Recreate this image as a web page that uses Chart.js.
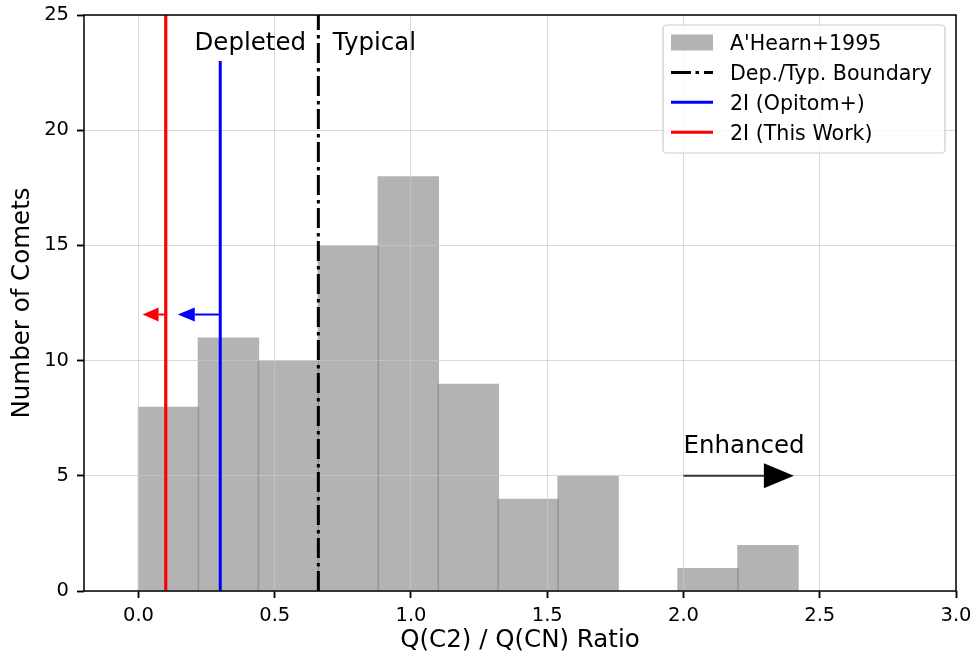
<!DOCTYPE html>
<html><head><meta charset="utf-8">
<script src="https://cdn.jsdelivr.net/npm/chart.js@4/dist/chart.umd.min.js"></script>
<style>html,body{margin:0;padding:0;background:#fff}</style>
</head><body>
<canvas id="c" width="974" height="661" style="display:block;width:974px;height:661px"></canvas>
<script>
// ---- data ----
const binEdges = [0.00, 0.22, 0.44, 0.66, 0.88, 1.10, 1.32, 1.54, 1.76, 1.98, 2.20, 2.42];
const binCounts = [8, 11, 10, 15, 18, 9, 4, 5, 0, 1, 2];
const xTicks = [0, 0.5, 1.0, 1.5, 2.0, 2.5, 3.0];
const yTicks = [0, 5, 10, 15, 20, 25];
const boundaryX = 0.66;
const opitomX = 0.3, opitomTop = 23;
const thisWorkX = 0.1, thisWorkTop = 25;
const arrowTailX = [0.1, 0.3, 2.0];
const arrowTipX = [0.015, 0.144, 2.405];
const arrowY = [12, 12, 5];
const noteTexts = ['Depleted', 'Typical', 'Enhanced'];
const noteX = [0.615, 0.713, 2.0];
const noteY = [23.5, 23.5, 6];
const legendLabels = ["A'Hearn+1995", "Dep./Typ. Boundary", "2I (Opitom+)", "2I (This Work)"];

// ---- styles ----
const FONT = "'DejaVu Sans', sans-serif";
const BAR_FILL = 'rgba(128,128,128,0.6)';
const GRID = 'rgba(210,210,210,0.6)';
const arrowStyle = [
  {shaft: '#ff0000', head: '#ff0000', lw: 2, len: 16, half: 7},
  {shaft: '#0000ff', head: '#0000ff', lw: 2, len: 17, half: 7},
  {shaft: '#333333', head: '#000000', lw: 2, len: 30, half: 12.5}
];
const noteAlign = ['right', 'left', 'left'];

const histData = binCounts.map((c, i) => ({x: (binEdges[i] + binEdges[i + 1]) / 2, y: c}));

const gridOverBars = {
  id: 'gridOverBars',
  afterDatasetDraw(chart, args) {
    if (args.index !== 0) return;
    chart.scales.x.drawGrid(chart.chartArea);
    chart.scales.y.drawGrid(chart.chartArea);
  }
};

const notes = {
  id: 'notes',
  afterDatasetsDraw(chart) {
    const {ctx, scales: {x, y}} = chart;
    ctx.save();
    for (let i = 0; i < arrowTailX.length; i++) {
      const s = arrowStyle[i];
      const tail = x.getPixelForValue(arrowTailX[i]);
      const tip = x.getPixelForValue(arrowTipX[i]);
      const yy = y.getPixelForValue(arrowY[i]);
      const dir = Math.sign(tip - tail);
      const base = tip - dir * s.len;
      ctx.strokeStyle = s.shaft; ctx.lineWidth = s.lw; ctx.lineCap = 'butt';
      ctx.beginPath(); ctx.moveTo(tail, yy); ctx.lineTo(base, yy); ctx.stroke();
      ctx.fillStyle = s.head;
      ctx.beginPath(); ctx.moveTo(tip, yy); ctx.lineTo(base, yy - s.half); ctx.lineTo(base, yy + s.half); ctx.closePath(); ctx.fill();
    }
    ctx.fillStyle = '#000';
    ctx.font = '24.5px ' + FONT;
    ctx.textBaseline = 'alphabetic';
    for (let i = 0; i < noteTexts.length; i++) {
      ctx.textAlign = noteAlign[i];
      ctx.fillText(noteTexts[i], x.getPixelForValue(noteX[i]), y.getPixelForValue(noteY[i]));
    }
    ctx.restore();
  },
  afterDraw(chart) {
    const {ctx, chartArea: ca} = chart;
    ctx.save();
    // spines
    ctx.strokeStyle = '#000'; ctx.lineWidth = 1.5;
    ctx.strokeRect(ca.left, ca.top, ca.right - ca.left, ca.bottom - ca.top);
    // legend
    const bw = 282, bh = 128;
    const bx = ca.right - 11 - bw, by = ca.top + 10;
    ctx.beginPath();
    ctx.roundRect(bx, by, bw, bh, 4);
    ctx.fillStyle = 'rgba(255,255,255,0.85)'; ctx.fill();
    ctx.strokeStyle = '#cccccc'; ctx.lineWidth = 1.2; ctx.stroke();
    const hx0 = bx + 8, hx1 = bx + 50, tx = bx + 67;
    ctx.font = '20.6px ' + FONT;
    ctx.textAlign = 'left'; ctx.textBaseline = 'alphabetic';
    for (let i = 0; i < legendLabels.length; i++) {
      const cy = by + 17.5 + i * 29.9;
      if (i === 0) {
        ctx.fillStyle = BAR_FILL;
        ctx.fillRect(hx0, cy - 8, hx1 - hx0, 16);
      } else {
        const ds = chart.data.datasets[i];
        ctx.strokeStyle = ds.borderColor; ctx.lineWidth = 3; ctx.lineCap = 'butt';
        ctx.setLineDash(ds.borderDash || []);
        ctx.beginPath(); ctx.moveTo(hx0, cy); ctx.lineTo(hx1, cy); ctx.stroke();
        ctx.setLineDash([]);
      }
      ctx.fillStyle = '#000';
      ctx.fillText(legendLabels[i], tx, cy + 7.5);
    }
    ctx.restore();
  }
};

new Chart(document.getElementById('c'), {
  type: 'bar',
  data: {
    datasets: [
      {type: 'bar', label: legendLabels[0], data: histData, backgroundColor: BAR_FILL, borderWidth: 0,
       barPercentage: 1.025, categoryPercentage: 1, grouped: false, order: 10},
      {type: 'line', label: legendLabels[1], data: [{x: boundaryX, y: 0}, {x: boundaryX, y: 25}],
       borderColor: '#000000', borderWidth: 3, borderDash: [20, 4.5, 3.5, 5], pointRadius: 0, fill: false, order: 3},
      {type: 'line', label: legendLabels[2], data: [{x: opitomX, y: 0}, {x: opitomX, y: opitomTop}],
       borderColor: '#0000ff', borderWidth: 3, pointRadius: 0, fill: false, order: 2},
      {type: 'line', label: legendLabels[3], data: [{x: thisWorkX, y: 0}, {x: thisWorkX, y: thisWorkTop}],
       borderColor: '#ff0000', borderWidth: 3.2, pointRadius: 0, fill: false, order: 1}
    ]
  },
  options: {
    responsive: false,
    animation: false,
    events: [],
    layout: {padding: {left: 0, right: 18, top: 15, bottom: 0}},
    plugins: {legend: {display: false}, tooltip: {enabled: false}},
    scales: {
      x: {
        type: 'linear', min: -0.2, max: 3.0, offset: false,
        afterBuildTicks: s => { s.ticks = xTicks.map(v => ({value: v})); },
        afterFit: s => { s.height = 70; s.paddingLeft = 0; s.paddingRight = 0; },
        ticks: {color: '#000', font: {family: FONT, size: 19.5}, padding: 6, maxRotation: 0, autoSkip: false,
                callback: v => Number(v).toFixed(1)},
        grid: {color: GRID, lineWidth: 1, offset: false, tickColor: '#000', tickLength: 7, tickWidth: 1.5},
        border: {display: false},
        title: {display: true, text: 'Q(C2) / Q(CN) Ratio', color: '#000', font: {family: FONT, size: 24.5},
                padding: {top: 0, bottom: 6}}
      },
      y: {
        type: 'linear', min: 0, max: 25,
        afterBuildTicks: s => { s.ticks = yTicks.map(v => ({value: v})); },
        afterFit: s => { s.width = 84; s.paddingTop = 0; s.paddingBottom = 0; },
        ticks: {color: '#000', font: {family: FONT, size: 19.5}, padding: 8, callback: v => String(v)},
        grid: {color: GRID, lineWidth: 1, tickColor: '#000', tickLength: 7, tickWidth: 1.5},
        border: {display: false},
        title: {display: true, text: 'Number of Comets', color: '#000', font: {family: FONT, size: 24.5},
                padding: {top: 8, bottom: 0}}
      }
    }
  },
  plugins: [gridOverBars, notes]
});
</script>
</body></html>
